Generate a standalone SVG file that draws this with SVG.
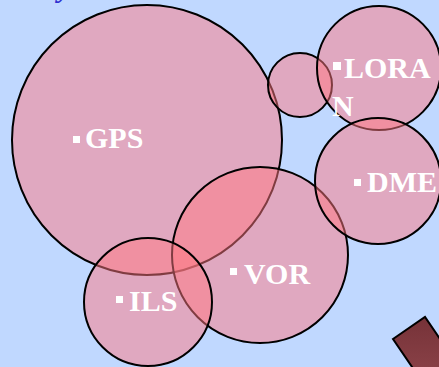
<svg xmlns="http://www.w3.org/2000/svg" width="439" height="367" viewBox="0 0 439 367">
<defs>
<style>
.c{fill:rgb(255,120,130);fill-opacity:0.5;stroke:#000;stroke-width:2}
.t{font-family:"Liberation Serif","Times New Roman",serif;font-weight:bold;font-size:30px;fill:#fff}
.b{fill:#fff}
</style>
<linearGradient id="br" x1="0" y1="0" x2="0" y2="1">
<stop offset="0" stop-color="#763238"/>
<stop offset="1" stop-color="#954a50"/>
</linearGradient>
</defs>
<rect width="439" height="367" fill="rgb(192,216,255)"/>
<text x="58" y="-3" font-family="Liberation Serif,serif" font-style="italic" font-weight="bold" font-size="30" fill="#3030d0">y</text>
<polygon points="393,339 425,317 470,383 438,405" fill="url(#br)" stroke="#000" stroke-width="2"/>
<g id="gps"><circle class="c" cx="147" cy="140" r="135"/></g>
<g id="vor"><circle class="c" cx="260" cy="255" r="88"/></g>
<g id="ils"><circle class="c" cx="148" cy="302" r="64"/></g>
<g id="small"><circle class="c" cx="300" cy="85" r="32"/></g>
<g id="loran"><circle class="c" cx="379" cy="68" r="62"/></g>
<g id="dme"><circle class="c" cx="378" cy="181" r="63"/></g>
<g id="labels">
<g id="gps-label"><rect class="b" x="73" y="136" width="7" height="7"/><text class="t" x="85" y="148">GPS</text></g>
<g id="vor-label"><rect class="b" x="230" y="268" width="7" height="7"/><text class="t" x="244" y="284">VOR</text></g>
<g id="ils-label"><rect class="b" x="116" y="296" width="7" height="7"/><text class="t" x="129" y="311">ILS</text></g>
<g id="dme-label"><rect class="b" x="354" y="179" width="7" height="7"/><text class="t" x="367" y="192">DME</text></g>
<g id="loran-label"><rect class="b" x="333" y="62" width="8" height="8"/><text class="t" x="344" y="78">LORA</text><text class="t" x="332" y="116">N</text></g>
</g>
</svg>
